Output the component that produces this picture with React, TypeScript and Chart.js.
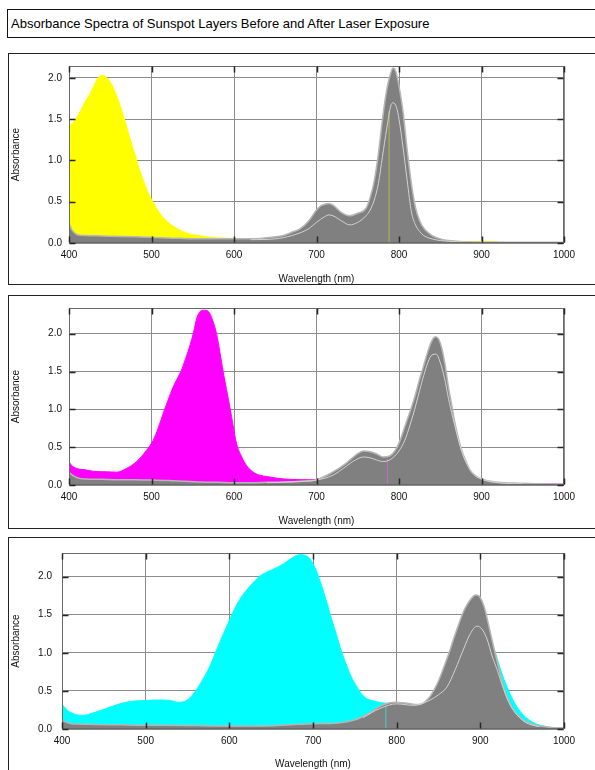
import React, { useEffect, useRef } from 'react';
import { Chart, registerables } from 'chart.js';

Chart.register(...registerables);

// ---------- text ----------
const TITLE = 'Absorbance Spectra of Sunspot Layers Before and After Laser Exposure';
const X_TITLE = 'Wavelength (nm)';
const Y_TITLE = 'Absorbance';
const X_TICKS = [400, 500, 600, 700, 800, 900, 1000];
const Y_TICKS = [0, 0.5, 1.0, 1.5, 2.0];

// ---------- panel 1 (yellow) ----------
const p1BeforeWl = [400, 405, 410, 415, 420, 425, 430, 435, 440, 445, 450, 455, 460, 465, 470, 475, 480, 485, 490, 495, 500, 505, 510, 515, 520, 530, 540, 550, 560, 570, 580, 590, 600, 610, 620, 630, 640, 660, 700, 800, 850, 900, 920];
const p1Before = [1.42, 1.46, 1.53, 1.62, 1.72, 1.80, 1.90, 2.00, 2.03, 2.01, 1.95, 1.85, 1.72, 1.57, 1.40, 1.23, 1.07, 0.90, 0.76, 0.63, 0.53, 0.44, 0.36, 0.30, 0.25, 0.18, 0.13, 0.10, 0.085, 0.07, 0.062, 0.058, 0.055, 0.052, 0.05, 0.045, 0.04, 0.03, 0.02, 0.02, 0.02, 0.02, 0.015];
const p1AfterWl = [400, 403, 406, 410, 420, 440, 460, 480, 500, 520, 540, 560, 580, 600, 620, 640, 660, 670, 680, 690, 700, 705, 710, 715, 720, 730, 740, 750, 760, 765, 770, 775, 780, 785, 790, 793, 796, 800, 805, 810, 815, 820, 825, 830, 835, 840, 850, 860, 880, 900, 1000];
const p1After = [0.25, 0.17, 0.13, 0.10, 0.09, 0.085, 0.08, 0.075, 0.07, 0.06, 0.055, 0.05, 0.05, 0.05, 0.05, 0.065, 0.09, 0.13, 0.17, 0.26, 0.40, 0.45, 0.47, 0.48, 0.46, 0.37, 0.33, 0.36, 0.42, 0.55, 0.75, 1.08, 1.50, 1.85, 2.06, 2.12, 2.08, 1.90, 1.58, 1.12, 0.72, 0.43, 0.27, 0.18, 0.13, 0.09, 0.05, 0.03, 0.015, 0.01, 0.01];
const p1InnerWl = [620, 650, 670, 690, 700, 710, 715, 720, 730, 740, 750, 760, 765, 770, 775, 780, 785, 790, 793, 797, 800, 805, 810, 815, 820, 825, 830, 840, 850, 870, 900];
const p1Inner = [0.04, 0.05, 0.09, 0.17, 0.25, 0.32, 0.34, 0.33, 0.27, 0.22, 0.25, 0.33, 0.40, 0.52, 0.72, 1.05, 1.38, 1.66, 1.70, 1.64, 1.50, 1.15, 0.75, 0.38, 0.22, 0.14, 0.09, 0.05, 0.03, 0.015, 0.01];
const p1MarkWl = [788, 788];
const p1Mark = [0, 1.6];
const p1YMax = 2.145;

// ---------- panel 2 (magenta) ----------
const p2BeforeWl = [400, 403, 409, 420, 430, 445, 458, 470, 482, 494, 502, 508, 514, 520, 526, 531, 536, 541, 547, 551, 555, 558, 562, 566, 570, 574, 579, 583, 587, 591, 595, 599, 603, 609, 615, 622, 631, 641, 652, 668, 690, 705, 720, 800, 900, 1000];
const p2Before = [0.31, 0.26, 0.22, 0.20, 0.18, 0.175, 0.17, 0.22, 0.31, 0.46, 0.59, 0.75, 0.94, 1.12, 1.29, 1.40, 1.51, 1.66, 1.86, 2.02, 2.21, 2.28, 2.31, 2.31, 2.28, 2.18, 1.99, 1.75, 1.49, 1.26, 1.03, 0.78, 0.55, 0.38, 0.26, 0.18, 0.13, 0.11, 0.09, 0.075, 0.07, 0.075, 0.04, 0.02, 0.015, 0.012];
const p2AfterWl = [400, 403, 407, 412, 420, 440, 460, 480, 500, 520, 540, 560, 580, 600, 620, 640, 660, 680, 700, 718, 735, 747, 757, 765, 773, 781, 788, 795, 801, 807, 813, 819, 825, 830, 834, 838, 841, 844, 848, 852, 856, 860, 864, 868, 872, 876, 881, 886, 893, 900, 916, 940, 970, 1000];
const p2After = [0.17, 0.14, 0.11, 0.09, 0.08, 0.075, 0.07, 0.07, 0.065, 0.06, 0.05, 0.04, 0.035, 0.03, 0.03, 0.035, 0.04, 0.05, 0.07, 0.16, 0.28, 0.39, 0.45, 0.44, 0.41, 0.37, 0.38, 0.45, 0.58, 0.77, 0.96, 1.16, 1.40, 1.58, 1.73, 1.86, 1.93, 1.96, 1.93, 1.80, 1.58, 1.29, 1.05, 0.81, 0.62, 0.46, 0.32, 0.20, 0.12, 0.08, 0.04, 0.025, 0.015, 0.008];
const p2InnerWl = [640, 680, 700, 720, 735, 747, 757, 765, 773, 781, 790, 800, 807, 813, 819, 825, 830, 835, 840, 845, 850, 855, 860, 865, 870, 875, 880, 890, 900, 920, 950];
const p2Inner = [0.03, 0.045, 0.065, 0.13, 0.24, 0.33, 0.37, 0.36, 0.33, 0.31, 0.34, 0.45, 0.59, 0.78, 1.00, 1.25, 1.45, 1.62, 1.72, 1.73, 1.62, 1.42, 1.14, 0.90, 0.68, 0.48, 0.33, 0.15, 0.08, 0.03, 0.015];
const p2MarkWl = [786, 786];
const p2Mark = [0, 0.35];
const p2YMax = 2.34;

// ---------- panel 3 (cyan) ----------
const p3BeforeWl = [400, 403, 406, 410, 416, 426, 437, 453, 469, 481, 490, 501, 510, 517, 529, 539, 549, 557, 565, 571, 577, 583, 589, 595, 601, 607, 613, 619, 625, 631, 637, 647, 657, 665, 673, 679, 685, 690, 695, 700, 705, 710, 716, 722, 728, 734, 740, 746, 752, 758, 764, 770, 782, 795, 810, 840, 860, 880, 900, 910, 918, 926, 934, 942, 950, 958, 966, 975, 985, 1000];
const p3Before = [0.32, 0.29, 0.25, 0.22, 0.19, 0.18, 0.21, 0.27, 0.33, 0.36, 0.37, 0.375, 0.38, 0.38, 0.375, 0.35, 0.375, 0.46, 0.59, 0.70, 0.83, 0.99, 1.15, 1.30, 1.45, 1.59, 1.71, 1.80, 1.88, 1.95, 2.01, 2.07, 2.12, 2.17, 2.23, 2.27, 2.29, 2.28, 2.25, 2.17, 2.05, 1.89, 1.68, 1.45, 1.24, 1.02, 0.84, 0.68, 0.56, 0.46, 0.40, 0.375, 0.345, 0.33, 0.31, 0.33, 0.65, 1.15, 1.55, 1.28, 1.0, 0.72, 0.50, 0.32, 0.20, 0.12, 0.07, 0.04, 0.02, 0.01];
const p3AfterWl = [400, 403, 407, 412, 420, 440, 470, 500, 530, 560, 600, 640, 678, 700, 730, 750, 766, 782, 798, 810, 826, 838, 844, 850, 856, 862, 868, 874, 879, 884, 889, 894, 898, 902, 906, 910, 914, 918, 922, 926, 931, 936, 941, 946, 952, 958, 966, 974, 985, 1000];
const p3After = [0.12, 0.10, 0.08, 0.07, 0.065, 0.06, 0.055, 0.05, 0.05, 0.045, 0.04, 0.04, 0.06, 0.07, 0.08, 0.12, 0.20, 0.31, 0.35, 0.34, 0.32, 0.40, 0.50, 0.63, 0.80, 0.98, 1.18, 1.37, 1.52, 1.63, 1.71, 1.76, 1.75, 1.68, 1.55, 1.36, 1.17, 0.98, 0.80, 0.62, 0.45, 0.32, 0.23, 0.17, 0.11, 0.08, 0.05, 0.035, 0.02, 0.015];
const p3InnerWl = [760, 780, 800, 820, 840, 850, 860, 870, 880, 888, 896, 902, 908, 914, 920, 926, 932, 938, 945, 955, 970];
const p3Inner = [0.15, 0.27, 0.33, 0.31, 0.38, 0.45, 0.55, 0.78, 1.05, 1.25, 1.35, 1.31, 1.18, 0.96, 0.78, 0.58, 0.40, 0.27, 0.17, 0.08, 0.03];
const p3MarkWl = [787, 787];
const p3Mark = [0, 0.3];
const p3YMax = 2.31;

// ---------- styling / layout (not data) ----------
const FONT = "'Liberation Sans', Arial, Helvetica, sans-serif";
const PAGE_W = 595;

type Spec = {
  beforeWl: number[]; before: number[];
  afterWl: number[]; after: number[];
  innerWl: number[]; inner: number[];
  markWl: number[]; mark: number[];
  yMax: number; color: string; markColor: string;
};
type Layout = {
  boxTop: number; boxHeight: number; canvasHeight: number;
  plotTop: number; plotBottom: number; plotLeft: number; plotRight: number;
  yTickPad: number; xTitlePad: number;
};

const SPECS: Spec[] = [
  { beforeWl: p1BeforeWl, before: p1Before, afterWl: p1AfterWl, after: p1After, innerWl: p1InnerWl, inner: p1Inner, markWl: p1MarkWl, mark: p1Mark, yMax: p1YMax, color: '#ffff00', markColor: '#b4b45a' },
  { beforeWl: p2BeforeWl, before: p2Before, afterWl: p2AfterWl, after: p2After, innerWl: p2InnerWl, inner: p2Inner, markWl: p2MarkWl, mark: p2Mark, yMax: p2YMax, color: '#ff00ff', markColor: '#c070c0' },
  { beforeWl: p3BeforeWl, before: p3Before, afterWl: p3AfterWl, after: p3After, innerWl: p3InnerWl, inner: p3Inner, markWl: p3MarkWl, mark: p3Mark, yMax: p3YMax, color: '#00ffff', markColor: '#50c8c8' },
];

const LAYOUTS: Layout[] = [
  { boxTop: 53, boxHeight: 232, canvasHeight: 232, plotTop: 64, plotBottom: 243, plotLeft: 69, plotRight: 564, yTickPad: 7, xTitlePad: 0 },
  { boxTop: 295, boxHeight: 234, canvasHeight: 234, plotTop: 307, plotBottom: 485, plotLeft: 69, plotRight: 564, yTickPad: 7, xTitlePad: 2 },
  { boxTop: 537, boxHeight: 260, canvasHeight: 233, plotTop: 550, plotBottom: 729, plotLeft: 62, plotRight: 564, yTickPad: 10, xTitlePad: 0 },
];

const pts = (xs: number[], ys: number[]) => xs.map((x, i) => ({ x, y: ys[i] }));

const frameTicks = {
  id: 'frameTicks',
  afterDatasetsDraw(chart: any) {
    const { ctx, chartArea: a, scales } = chart;
    const L = Math.round(a.left) + 0.5;
    const R = Math.round(a.right) - 0.5;
    const T = Math.round(a.top) + 0.5;
    const B = Math.round(a.bottom) - 0.5;
    ctx.save();
    ctx.lineWidth = 1;
    ctx.strokeStyle = '#6a6a6a';
    ctx.strokeRect(L, T, R - L, B - T);
    ctx.strokeStyle = '#262626';
    ctx.lineWidth = 1.5;
    const len = 6;
    ctx.beginPath();
    X_TICKS.forEach((v) => {
      const px = Math.round(scales.x.getPixelForValue(v)) + 0.5;
      ctx.moveTo(px, B); ctx.lineTo(px, B - len);
      ctx.moveTo(px, T); ctx.lineTo(px, T + len);
    });
    Y_TICKS.forEach((v) => {
      const py = Math.round(scales.y.getPixelForValue(v)) + 0.5;
      ctx.moveTo(L, py); ctx.lineTo(L + len, py);
      ctx.moveTo(R, py); ctx.lineTo(R - len, py);
    });
    ctx.stroke();
    ctx.restore();
  },
};

function SpectrumPanel({ spec, layout }: { spec: Spec; layout: Layout }) {
  const ref = useRef<HTMLCanvasElement | null>(null);
  useEffect(() => {
    const canvas = ref.current;
    if (!canvas) return;
    const top = layout.boxTop;
    const xScaleH = layout.canvasHeight - (layout.plotBottom - top);
    const chart = new Chart(canvas, {
      type: 'line',
      data: {
        datasets: [
          {
            data: pts(spec.beforeWl, spec.before),
            backgroundColor: spec.color, borderColor: spec.color, borderWidth: 1,
            fill: 'origin', pointRadius: 0, order: 4, cubicInterpolationMode: 'monotone',
          },
          {
            data: pts(spec.afterWl, spec.after),
            backgroundColor: '#808080', borderColor: '#b6b6b6', borderWidth: 1.5,
            fill: 'origin', pointRadius: 0, order: 3, cubicInterpolationMode: 'monotone',
          },
          {
            data: pts(spec.markWl, spec.mark),
            borderColor: spec.markColor, borderWidth: 1, fill: false, pointRadius: 0, order: 2,
          },
          {
            data: pts(spec.innerWl, spec.inner),
            borderColor: '#d2d2d2', borderWidth: 1, fill: false, pointRadius: 0, order: 1,
            cubicInterpolationMode: 'monotone',
          },
        ] as any,
      },
      options: {
        animation: false,
        responsive: false,
        maintainAspectRatio: false,
        events: [],
        layout: { padding: { top: layout.plotTop - top, right: PAGE_W - layout.plotRight, left: 0, bottom: 0 } },
        plugins: { legend: { display: false }, tooltip: { enabled: false } },
        scales: {
          x: {
            type: 'linear',
            min: X_TICKS[0],
            max: X_TICKS[X_TICKS.length - 1],
            ticks: { stepSize: X_TICKS[1] - X_TICKS[0], padding: 6, color: '#111', maxRotation: 0, autoSkip: false, font: { family: FONT, size: 10 }, callback: (v: any) => String(v) },
            grid: { color: '#8c8c8c', lineWidth: 1, drawTicks: false },
            border: { display: false },
            title: { display: true, text: X_TITLE, color: '#111', font: { family: FONT, size: 10 }, padding: { top: 0, bottom: layout.xTitlePad } },
            afterFit: (s: any) => { s.height = xScaleH; },
          },
          y: {
            type: 'linear',
            min: Y_TICKS[0],
            max: spec.yMax,
            ticks: { stepSize: Y_TICKS[1] - Y_TICKS[0], includeBounds: false, padding: layout.yTickPad, color: '#111', font: { family: FONT, size: 10 }, callback: (v: any) => Number(v).toFixed(1) },
            grid: { color: '#8c8c8c', lineWidth: 1, drawTicks: false },
            border: { display: false },
            title: { display: true, text: Y_TITLE, color: '#111', font: { family: FONT, size: 10 }, padding: { top: 10, bottom: 0 } },
            afterFit: (s: any) => { s.width = layout.plotLeft; },
          },
        },
      } as any,
      plugins: [frameTicks],
    });
    return () => chart.destroy();
  }, [spec, layout]);

  return (
    <>
      <div
        style={{
          position: 'absolute', left: 8, top: layout.boxTop, width: 640, height: layout.boxHeight,
          border: '1px solid #222', boxSizing: 'border-box',
        }}
      />
      <canvas
        ref={ref}
        width={PAGE_W}
        height={layout.canvasHeight}
        style={{ position: 'absolute', left: 0, top: layout.boxTop, width: PAGE_W, height: layout.canvasHeight }}
      />
    </>
  );
}

export default function App() {
  return (
    <div style={{ position: 'absolute', left: 0, top: 0, width: PAGE_W, height: 770, overflow: 'hidden', background: '#fff', fontFamily: FONT }}>
      <div
        style={{
          position: 'absolute', left: 7, top: 9, width: 640, height: 29, border: '1px solid #111',
          boxSizing: 'border-box', fontSize: 13, lineHeight: '27px', paddingLeft: 3, color: '#000', whiteSpace: 'nowrap',
        }}
      >
        {TITLE}
      </div>
      {SPECS.map((s, i) => (
        <SpectrumPanel key={i} spec={s} layout={LAYOUTS[i]} />
      ))}
    </div>
  );
}
